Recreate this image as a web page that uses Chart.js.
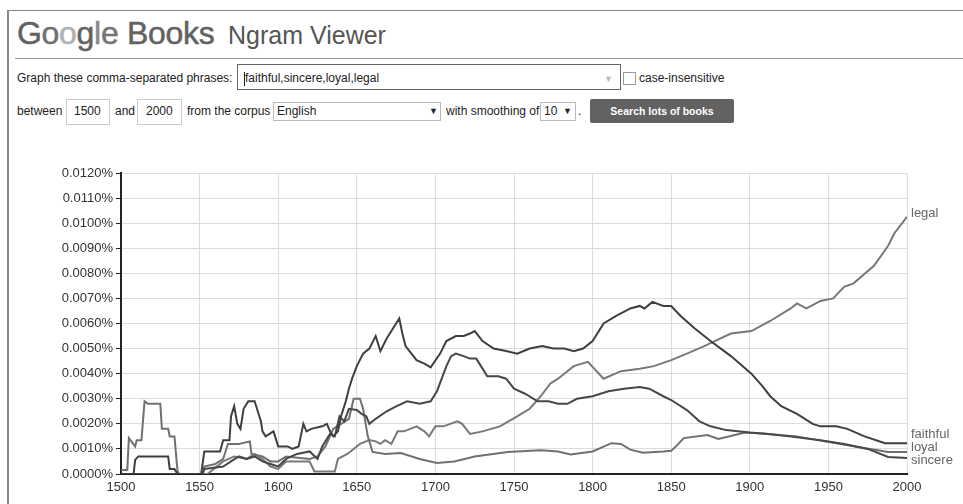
<!DOCTYPE html>
<html>
<head>
<meta charset="utf-8">
<title>Google Books Ngram Viewer</title>
<script src="https://cdn.jsdelivr.net/npm/chart.js@4.4.1/dist/chart.umd.min.js"></script>
<style>
    body { margin: 0; background: #fff; font-family: "Liberation Sans", Arial, sans-serif; color: #222; }
    #page { position: relative; width: 963px; height: 504px; overflow: hidden; }
    .abs { position: absolute; white-space: nowrap; }
    .frame-left { left: 7px; top: 10px; width: 2px; height: 500px; background: #888; }
    .frame-top { left: 7px; top: 10px; width: 960px; height: 1px; background: #888; }
    .rule { left: 15px; top: 58px; width: 950px; height: 1px; background: #999; }
    .logo { left: 17px; top: 17px; font-size: 32px; line-height: 32px; letter-spacing: -0.3px; -webkit-text-stroke: 0.5px; }
    .title { left: 228px; top: 23px; font-size: 25px; line-height: 25px; color: #555; }
    .lbl { font-size: 12px; line-height: 14px; color: #222; }
    .box { border: 1px solid #ccc; background: #fff; box-sizing: border-box; }
    .btn { left: 590px; top: 99px; width: 144px; height: 24px; background: #626262; border-radius: 2px;
           color: #fff; font-weight: bold; font-size: 10.5px; line-height: 24px; text-align: center; }
    #chartCanvas { position: absolute; left: 0; top: 160px; }
</style>
</head>
<body>
<div id="page">
    <div class="abs frame-left"></div>
    <div class="abs frame-top"></div>
    <div class="abs logo"><span style="color:#626262">G</span><span style="color:#707070">o</span><span style="color:#b0b0b0">o</span><span style="color:#626262">g</span><span style="color:#888">l</span><span style="color:#747474">e</span><span style="color:#626262"> Books</span></div>
    <div class="abs title">Ngram Viewer</div>
    <div class="abs rule"></div>

    <div class="abs lbl" style="left:17px; top:71px;">Graph these comma-separated phrases:</div>
    <div class="abs box" style="left:237px; top:64px; width:384px; height:26px; border-color:#666;"></div>
    <div class="abs" style="left:244px; top:72px; width:1px; height:14px; background:#222;"></div>
    <div class="abs lbl" style="left:245px; top:71px;">faithful,sincere,loyal,legal</div>
    <div class="abs lbl" style="left:604px; top:72px; color:#bbb; font-size:9px;">&#9660;</div>
    <div class="abs box" style="left:623px; top:72px; width:13px; height:13px; border-color:#999;"></div>
    <div class="abs lbl" style="left:639px; top:71px;">case-insensitive</div>

    <div class="abs lbl" style="left:17px; top:104px;">between</div>
    <div class="abs box" style="left:66px; top:99px; width:44px; height:26px;"></div>
    <div class="abs lbl" style="left:74px; top:104px;">1500</div>
    <div class="abs lbl" style="left:115px; top:104px;">and</div>
    <div class="abs box" style="left:137px; top:99px; width:45px; height:26px;"></div>
    <div class="abs lbl" style="left:146px; top:104px;">2000</div>
    <div class="abs lbl" style="left:187px; top:104px;">from the corpus</div>
    <div class="abs box" style="left:273px; top:102px; width:168px; height:19px; border-color:#bbb;"></div>
    <div class="abs lbl" style="left:277px; top:104px;">English</div>
    <div class="abs lbl" style="left:429px; top:104px; font-size:9px;">&#9660;</div>
    <div class="abs lbl" style="left:446px; top:104px;">with smoothing of</div>
    <div class="abs box" style="left:540px; top:102px; width:36px; height:19px; border-color:#bbb;"></div>
    <div class="abs lbl" style="left:544px; top:104px;">10</div>
    <div class="abs lbl" style="left:563px; top:104px; font-size:9px;">&#9660;</div>
    <div class="abs lbl" style="left:578px; top:104px;">.</div>
    <div class="abs btn">Search lots of books</div>

    <canvas id="chartCanvas" width="963" height="344"></canvas>
</div>

<script>
// Ngram data (percent of all words)
const seriesNames = ['faithful', 'sincere', 'loyal', 'legal'];

const faithfulYears = [1500, 1508, 1509, 1511, 1530, 1531, 1534, 1536, 1551, 1553, 1563, 1565, 1569, 1570, 1572, 1574, 1576, 1578, 1581, 1585, 1587, 1589, 1590, 1592, 1597, 1599, 1600, 1606, 1609, 1613, 1616, 1618, 1621, 1628, 1631, 1633, 1635, 1638, 1640, 1643, 1645, 1647, 1650, 1654, 1658, 1662, 1665, 1669, 1672, 1677, 1679, 1681, 1688, 1693, 1697, 1703, 1707, 1713, 1718, 1722, 1725, 1730, 1737, 1745, 1752, 1760, 1768, 1775, 1782, 1788, 1794, 1800, 1807, 1815, 1824, 1830, 1833, 1838, 1845, 1850, 1856, 1865, 1875, 1888, 1901, 1908, 1913, 1920, 1930, 1940, 1945, 1955, 1962, 1973, 1986, 2000];
const faithfulValues = [0, 0, 0.00056, 0.0007, 0.0007, 0.0002, 0.0002, 0, 0, 0.0009, 0.0009, 0.00135, 0.00135, 0.0023, 0.0027, 0.0020, 0.0018, 0.0026, 0.0029, 0.0029, 0.0025, 0.0021, 0.0017, 0.0015, 0.0017, 0.0013, 0.0011, 0.0011, 0.0010, 0.0011, 0.0020, 0.0017, 0.0018, 0.0019, 0.0020, 0.0017, 0.0015, 0.0017, 0.0023, 0.0029, 0.0034, 0.0038, 0.0043, 0.0048, 0.0050, 0.0055, 0.0049, 0.0054, 0.0057, 0.0062, 0.0056, 0.0051, 0.00454, 0.0044, 0.00425, 0.0048, 0.0053, 0.0055, 0.0055, 0.0056, 0.0057, 0.0053, 0.0050, 0.0049, 0.0048, 0.0050, 0.0051, 0.0050, 0.0050, 0.0049, 0.0050, 0.0053, 0.0060, 0.0063, 0.0066, 0.0067, 0.0066, 0.00686, 0.0067, 0.0067, 0.0063, 0.0058, 0.0053, 0.0047, 0.0040, 0.0035, 0.0031, 0.0027, 0.0024, 0.0020, 0.0019, 0.0019, 0.0018, 0.0015, 0.00123, 0.00123];

const sincereYears = [1500, 1552, 1553, 1565, 1570, 1575, 1580, 1585, 1590, 1595, 1600, 1605, 1612, 1620, 1625, 1628, 1633, 1636, 1639, 1642, 1645, 1650, 1653, 1656, 1658, 1662, 1669, 1675, 1682, 1690, 1697, 1701, 1707, 1710, 1713, 1718, 1722, 1726, 1730, 1733, 1740, 1745, 1750, 1757, 1765, 1772, 1778, 1784, 1790, 1800, 1810, 1820, 1830, 1836, 1845, 1850, 1860, 1868, 1875, 1885, 1900, 1910, 1925, 1945, 1960, 1975, 1988, 2000];
const sincereValues = [0, 0, 0.0002, 0.0003, 0.0005, 0.0007, 0.0006, 0.0007, 0.0005, 0.0004, 0.0003, 0.0006, 0.0008, 0.0009, 0.0006, 0.0011, 0.0016, 0.0015, 0.0023, 0.0021, 0.0026, 0.00255, 0.0024, 0.0023, 0.0020, 0.0022, 0.0025, 0.0027, 0.0029, 0.0028, 0.0029, 0.0033, 0.0043, 0.0047, 0.0048, 0.0047, 0.0046, 0.0046, 0.0042, 0.0039, 0.0039, 0.0038, 0.0034, 0.0032, 0.0029, 0.0029, 0.0028, 0.0028, 0.0030, 0.0031, 0.0033, 0.0034, 0.00347, 0.0034, 0.0031, 0.00295, 0.00255, 0.0021, 0.0019, 0.00175, 0.00165, 0.0016, 0.0015, 0.00135, 0.0012, 0.0010, 0.00068, 0.00064];

const loyalYears = [1500, 1504, 1505, 1509, 1510, 1513, 1515, 1517, 1525, 1526, 1530, 1531, 1534, 1536, 1537, 1552, 1553, 1560, 1565, 1568, 1575, 1582, 1583, 1590, 1595, 1600, 1605, 1620, 1625, 1630, 1635, 1640, 1645, 1648, 1652, 1654, 1657, 1660, 1668, 1678, 1690, 1701, 1712, 1725, 1746, 1767, 1778, 1786, 1800, 1812, 1818, 1824, 1832, 1845, 1850, 1853, 1858, 1873, 1880, 1897, 1910, 1930, 1945, 1967, 1988, 2000];
const loyalValues = [0.00016, 0.00016, 0.00143, 0.0011, 0.00135, 0.00135, 0.0029, 0.0028, 0.0028, 0.0018, 0.0018, 0.0015, 0.0015, 0.0001, 0, 0, 0.0003, 0.0004, 0.0006, 0.0012, 0.0012, 0.0013, 0.0008, 0.0007, 0.0005, 0.0005, 0.0007, 0.0006, 0.0007, 0.0011, 0.0018, 0.0020, 0.0022, 0.0030, 0.0030, 0.0026, 0.0015, 0.00088, 0.0008, 0.00084, 0.0006, 0.00044, 0.0005, 0.0007, 0.00088, 0.00095, 0.0009, 0.00078, 0.0009, 0.00123, 0.0012, 0.00097, 0.00085, 0.0009, 0.00093, 0.0011, 0.00143, 0.00155, 0.0014, 0.00165, 0.0016, 0.0015, 0.00133, 0.0011, 0.00088, 0.00088];

const legalYears = [1500, 1555, 1565, 1572, 1580, 1585, 1590, 1595, 1600, 1605, 1620, 1623, 1630, 1636, 1638, 1641, 1644, 1648, 1652, 1658, 1662, 1665, 1668, 1672, 1676, 1680, 1688, 1693, 1696, 1700, 1705, 1714, 1717, 1722, 1730, 1741, 1752, 1760, 1767, 1773, 1778, 1788, 1797, 1801, 1807, 1818, 1830, 1839, 1850, 1860, 1871, 1888, 1901, 1913, 1926, 1930, 1936, 1945, 1953, 1960, 1966, 1979, 1988, 1992, 2000];
const legalValues = [0, 0, 0.0005, 0.0007, 0.0006, 0.0008, 0.0006, 0.0003, 0.0002, 0.0005, 0.0005, 0.0001, 0.0001, 0.0001, 0.0006, 0.0007, 0.0008, 0.0010, 0.0012, 0.00135, 0.0013, 0.0012, 0.00135, 0.0012, 0.0017, 0.0017, 0.0019, 0.0017, 0.0015, 0.0019, 0.0019, 0.0021, 0.0020, 0.0016, 0.0017, 0.0019, 0.0023, 0.0026, 0.0031, 0.0036, 0.0038, 0.0043, 0.00447, 0.0042, 0.0038, 0.0041, 0.0042, 0.0043, 0.00454, 0.0048, 0.0051, 0.0056, 0.0057, 0.0061, 0.0066, 0.0068, 0.0066, 0.0069, 0.0070, 0.00746, 0.0076, 0.0083, 0.0091, 0.0096, 0.01025];

// Axis ticks
const yearTicks = [1500, 1550, 1600, 1650, 1700, 1750, 1800, 1850, 1900, 1950, 2000];
const percentTicks = [0, 0.001, 0.002, 0.003, 0.004, 0.005, 0.006, 0.007, 0.008, 0.009, 0.010, 0.011, 0.012];

function toPoints(years, values) {
    return years.map(function(y, i) { return { x: y, y: values[i] }; });
}

const lineColors = ['#3f3f3f', '#474747', '#707070', '#787878'];
const seriesData = [
    toPoints(faithfulYears, faithfulValues),
    toPoints(sincereYears, sincereValues),
    toPoints(loyalYears, loyalValues),
    toPoints(legalYears, legalValues)
];

// Labels at the right end of each line, spread so they do not overlap
const endLabels = {
    id: 'endLabels',
    afterDatasetsDraw(chart) {
        const ctx = chart.ctx;
        const gap = 13;
        let items = chart.data.datasets.map(function(ds, i) {
            const meta = chart.getDatasetMeta(i);
            const last = meta.data[meta.data.length - 1];
            return { text: ds.label, y: last.y };
        }).sort(function(a, b) { return a.y - b.y; });

        let clusters = [];
        items.forEach(function(it) {
            clusters.push({ items: [it], top: it.y });
            while (clusters.length > 1) {
                const a = clusters[clusters.length - 2];
                const b = clusters[clusters.length - 1];
                if (a.top + a.items.length * gap > b.top) {
                    const all = a.items.concat(b.items);
                    const mean = all.reduce(function(s, o) { return s + o.y; }, 0) / all.length;
                    clusters.splice(clusters.length - 2, 2, { items: all, top: mean - (all.length - 1) * gap / 2 });
                } else {
                    break;
                }
            }
        });

        ctx.save();
        ctx.font = '13px "Liberation Sans", Arial, sans-serif';
        ctx.fillStyle = '#666';
        ctx.textAlign = 'left';
        ctx.textBaseline = 'alphabetic';
        clusters.forEach(function(c) {
            c.items.forEach(function(it, k) {
                ctx.fillText(it.text, chart.chartArea.right + 4, c.top + k * gap);
            });
        });
        ctx.restore();
    }
};

new Chart(document.getElementById('chartCanvas'), {
    type: 'line',
    data: {
        datasets: seriesNames.map(function(name, i) {
            return {
                label: name,
                data: seriesData[i],
                borderColor: lineColors[i],
                borderWidth: 2,
                pointRadius: 0,
                tension: 0,
                fill: false
            };
        })
    },
    options: {
        responsive: false,
        animation: false,
        layout: { padding: { top: 13, right: 56, left: 0, bottom: 0 } },
        plugins: {
            legend: { display: false },
            tooltip: { enabled: false }
        },
        scales: {
            x: {
                type: 'linear',
                min: 1500,
                max: 2000,
                afterFit: function(scale) { scale.height = 30; },
                afterBuildTicks: function(scale) {
                    scale.ticks = yearTicks.map(function(v) { return { value: v }; });
                },
                grid: { color: '#dcdcdc', drawTicks: false },
                border: { color: '#222', width: 2 },
                ticks: {
                    padding: 6,
                    color: '#333',
                    font: { family: '"Liberation Sans", Arial, sans-serif', size: 13 },
                    callback: function(v) { return String(v); }
                }
            },
            y: {
                min: 0,
                max: 0.012,
                afterFit: function(scale) { scale.width = 121; },
                afterBuildTicks: function(scale) {
                    scale.ticks = percentTicks.map(function(v) { return { value: v }; });
                },
                grid: { color: '#dcdcdc', tickColor: '#222', tickLength: 5 },
                border: { color: '#222', width: 2 },
                ticks: {
                    padding: 3,
                    color: '#333',
                    font: { family: '"Liberation Sans", Arial, sans-serif', size: 13 },
                    callback: function(v) { return v.toFixed(4) + '%'; }
                }
            }
        }
    },
    plugins: [endLabels]
});
</script>
</body>
</html>
